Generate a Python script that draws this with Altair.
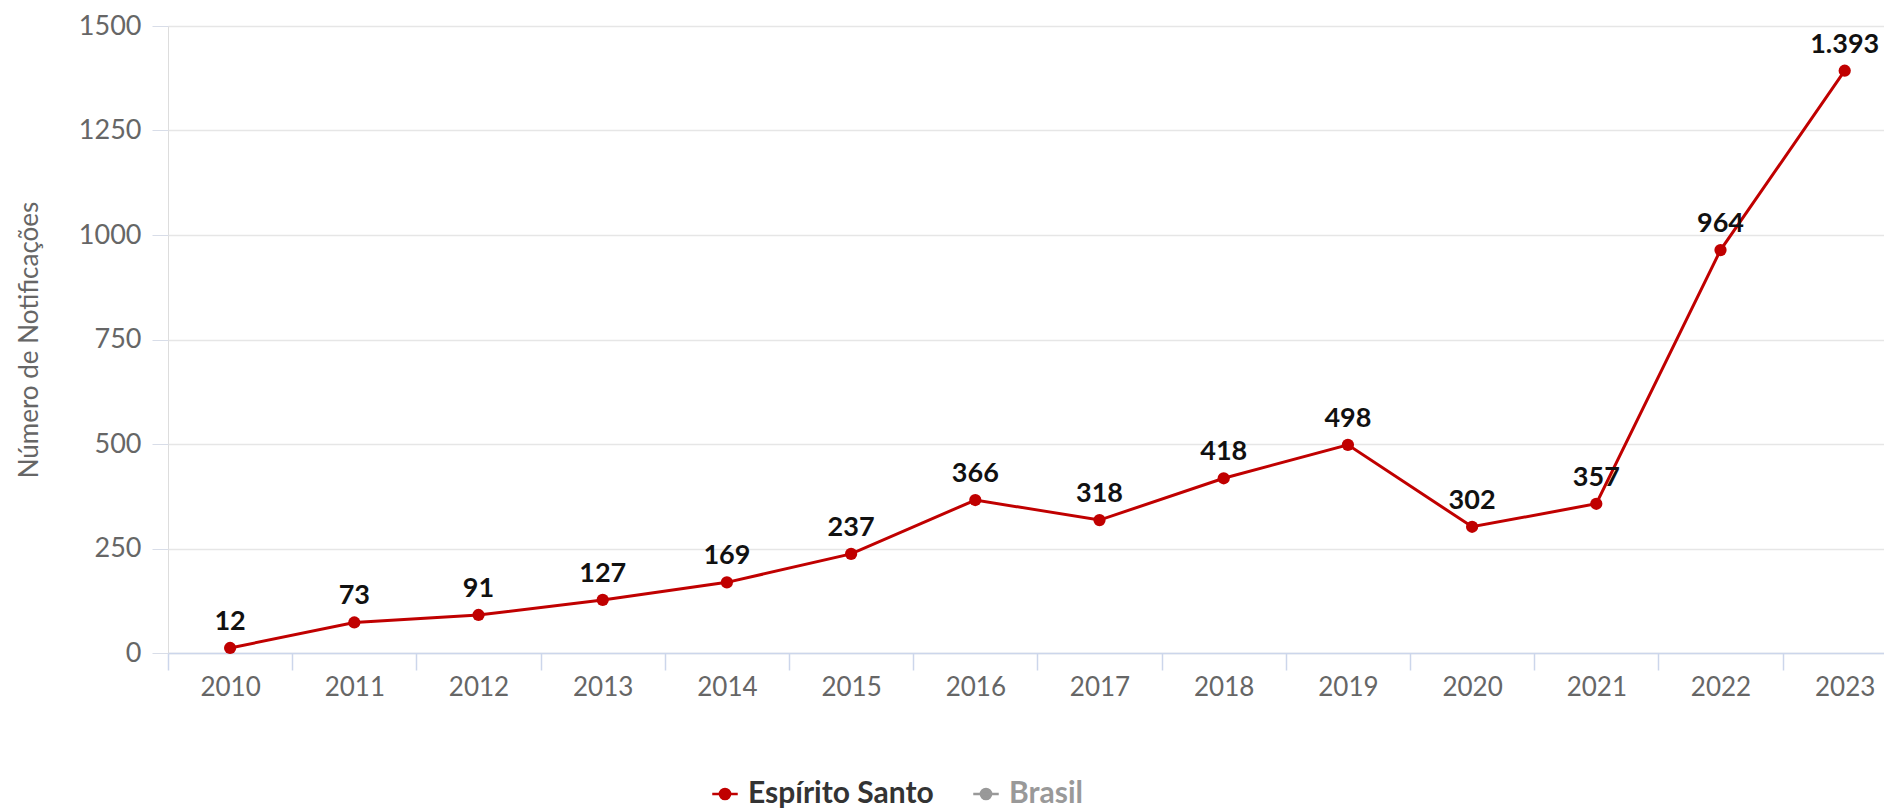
import altair as alt
import pandas as pd

years = ["2010", "2011", "2012", "2013", "2014", "2015", "2016",
         "2017", "2018", "2019", "2020", "2021", "2022", "2023"]
es_values = [12, 73, 91, 127, 169, 237, 366, 318, 418, 498, 302, 357, 964, 1393]
series_names = ["Espírito Santo", "Brasil"]
series_colors = ["#c00000", "#999999"]
y_ticks = [0, 250, 500, 750, 1000, 1250, 1500]

df = pd.DataFrame({"ano": years, "valor": es_values, "serie": series_names[0]})
df["rotulo"] = [f"{v:,}".replace(",", ".") for v in es_values]

W, H = 1716, 627
band = 124.2
FONT = "Lato"

legend_symbol = ("M-1,0H1M-0.4,0A0.4,0.4 0 1,0 0.4,0"
                 "A0.4,0.4 0 1,0 -0.4,0Z")

x = alt.X("ano:N", sort=years, title=None,
          scale=alt.Scale(domain=years, range=[0, band * len(years)],
                          paddingInner=0, paddingOuter=0),
          axis=alt.Axis(labelAngle=0, tickBand="extent", tickSize=17,
                        tickColor="#ccd6eb", domainColor="#ccd6eb",
                        domainWidth=1.5, tickWidth=1.5,
                        labelFont=FONT, labelFontSize=26, labelColor="#666666",
                        labelPadding=4, grid=False))

y = alt.Y("valor:Q", title="Número de Notificações",
          scale=alt.Scale(domain=[0, 1500], nice=False),
          axis=alt.Axis(values=y_ticks, format="d", tickSize=16, tickColor="#d8dde8",
                        gridColor="#e6e6e6", gridWidth=1.5, domain=False,
                        labelFont=FONT, labelFontSize=27, labelColor="#666666",
                        labelPadding=11, titleFont=FONT, titleFontSize=26,
                        titleFontWeight="normal", titleColor="#666666",
                        titlePadding=36))

color = alt.Color("serie:N",
                  scale=alt.Scale(domain=series_names, range=series_colors),
                  legend=alt.Legend(title=None, orient="none", direction="horizontal",
                                    legendX=542, legendY=753,
                                    symbolType=legend_symbol, symbolSize=650,
                                    symbolStrokeWidth=2.5,
                                    labelFont=FONT, labelFontSize=30,
                                    labelFontWeight="bold", labelLimit=500,
                                    labelColor=alt.ExprRef("datum.label == 'Brasil' ? '#999999' : '#333333'"),
                                    columnPadding=34, labelOffset=8))

base = alt.Chart(df)

line = base.mark_line(strokeWidth=3).encode(x=x, y=y, color=color)
pts = base.mark_point(filled=True, size=150, opacity=1).encode(
    x=x, y=y, color=alt.Color("serie:N", scale=alt.Scale(domain=series_names, range=series_colors), legend=None))
labels = base.mark_text(font=FONT, fontSize=27, fontWeight="bold", color="#111111",
                        baseline="middle", dy=-26).encode(x=x, y=y, text="rotulo:N")

chart = alt.layer(line, pts, labels).properties(
    width=W, height=H,
    autosize=alt.AutoSizeParams(type="none"),
    padding={"left": 160, "top": 18, "right": 0, "bottom": 155},
).configure_view(stroke=None).configure(background="white")

chart.save("out.html", embed_options={"renderer": "svg", "actions": False})
